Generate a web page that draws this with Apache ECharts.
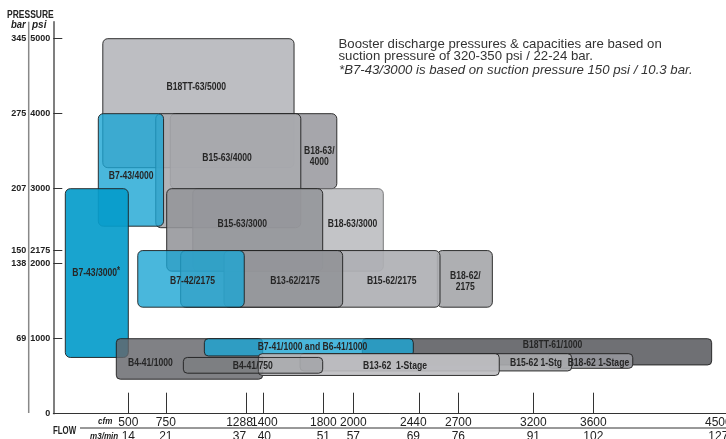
<!DOCTYPE html>
<html>
<head>
<meta charset="utf-8">
<script src="https://cdn.jsdelivr.net/npm/echarts@6/dist/echarts.min.js"></script>
<style>html,body{margin:0;padding:0;background:#fff}#c{width:726px;height:439px}</style>
</head>
<body>
<div id="c"></div>
<script>
// ---- data (cfm on x, psi on y) ----
const models = ['B18TT-63/5000','B18-63/4000','B15-63/4000','B7-43/4000','B18-63/3000','B15-63/3000','B7-43/3000*',
  'B18-62/2175','B15-62/2175','B13-62/2175','B7-42/2175','B4-41/1000','B18TT-61/1000','B7-41/1000 and B6-41/1000',
  'B18-62 1-Stage','B15-62 1-Stg','B13-62  1-Stage','B4-41/750'];
const cfmFrom = [330, 780, 683, 300, 930, 756, 80, 2560, 1138, 849, 563, 420, 2060, 1007, 3300, 1645, 1367, 867];
const cfmTo   = [1605, 1890, 1650, 735, 2200, 1796, 500, 2927, 2578, 1929, 1273, 1396, 4389, 2400, 3863, 3456, 2973, 1796];
const psiLow  = [3280, 3000, 2480, 2500, 1900, 1900, 750, 1420, 1420, 1420, 1420, 460, 650, 770, 605, 570, 510, 540];
const psiHigh = [5000, 4000, 4000, 4000, 3000, 3000, 3000, 2175, 2175, 2175, 2175, 1000, 1000, 1000, 800, 800, 800, 750];
const labelText = ['B18TT-63/5000','B18-63/\n4000','B15-63/4000','B7-43/4000','B18-63/3000','B15-63/3000','B7-43/3000{s|*}',
  'B18-62/\n2175','B15-62/2175','B13-62/2175','B7-42/2175','B4-41/1000','B18TT-61/1000','B7-41/1000 and B6-41/1000',
  'B18-62 1-Stage','B15-62 1-Stg','B13-62  1-Stage','B4-41/750'];
const labelCfm = [953, 1773, 1158, 519, 1995, 1260, 286, 2747, 2256, 1611, 928, 647, 3328, 1728, 3634, 3218, 2278, 1330];
const labelPsi = [4352, 3424, 3404, 3173, 2525, 2529, 1872, 1769, 1769, 1769, 1769, 680, 916, 893, 672, 672, 640, 636];
const psiTicks = [1000, 2000, 2175, 3000, 4000, 5000];
const psiLabels = [0, 1000, 2000, 2175, 3000, 4000, 5000];
const barLabels = [69, 138, 150, 207, 275, 345];
const cfmTicks = [500, 750, 1288, 1400, 1800, 2000, 2440, 2700, 3200, 3600, 4500];
const m3Labels = [14, 21, 37, 40, 51, 57, 69, 76, 91, 102, 127];

// ---- styles ----
const BLUE = 'rgba(28,165,211,0.8)';
const boxStyle = {
  'B18TT-63/5000': {fill:'rgba(180,181,185,0.88)'},
  'B18-63/4000': {fill:'rgba(150,151,156,0.85)'},
  'B15-63/4000': {fill:'rgba(170,171,175,0.9)'},
  'B7-43/4000': {fill:BLUE},
  'B18-63/3000': {fill:'rgba(170,171,175,0.7)', stroke:'rgba(110,110,112,0.9)'},
  'B15-63/3000': {fill:'rgba(148,149,154,0.88)'},
  'B7-43/3000*': {fill:'rgba(8,157,203,0.93)'},
  'B18-62/2175': {fill:'rgba(160,161,165,0.85)'},
  'B15-62/2175': {fill:'rgba(175,176,180,0.92)'},
  'B13-62/2175': {fill:'rgba(140,141,146,0.75)'},
  'B7-42/2175': {fill:BLUE},
  'B4-41/1000': {fill:'rgba(100,101,106,0.82)', r:4},
  'B18TT-61/1000': {fill:'rgba(95,96,101,0.9)', r:4},
  'B7-41/1000 and B6-41/1000': {fill:BLUE, r:4},
  'B18-62 1-Stage': {fill:'rgba(150,151,156,0.9)', r:4},
  'B15-62 1-Stg': {fill:'rgba(168,169,173,0.92)', r:4},
  'B13-62  1-Stage': {fill:'rgba(188,189,192,0.9)', r:4},
  'B4-41/750': {fill:'rgba(120,121,126,0.3)', r:4}
};
const BOLDF = "'Liberation Sans',Arial,sans-serif";
const SANS = "'Liberation Sans',Arial,sans-serif";
const LABEL_SCALE = 0.78;
const tickLabelShift = {1288: -7, 1400: 1, 2440: -6, 4500: -10};

const chart = echarts.init(document.getElementById('c'), null, {renderer:'canvas'});

const boxData = models.map((m, i) => [cfmFrom[i], cfmTo[i], psiLow[i], psiHigh[i]]);
const labelData = models.map((m, i) => [labelCfm[i], labelPsi[i]]);

function renderBox(params, api) {
  const i = params.dataIndex;
  const st = boxStyle[models[i]];
  const p0 = api.coord([api.value(0), api.value(3)]);
  const p1 = api.coord([api.value(1), api.value(2)]);
  return {
    type: 'rect',
    shape: {x: p0[0], y: p0[1], width: p1[0] - p0[0], height: p1[1] - p0[1], r: st.r || 5},
    style: {fill: st.fill, stroke: st.stroke || 'rgba(30,30,30,0.9)', lineWidth: 1}
  };
}
function renderLabel(params, api) {
  const i = params.dataIndex;
  const p = api.coord([api.value(0), api.value(1)]);
  return {
    type: 'text', x: p[0], y: p[1], scaleX: LABEL_SCALE, scaleY: 1,
    style: {
      text: labelText[i], fill: '#262626', font: 'bold 11px ' + BOLDF,
      align: 'center', verticalAlign: 'middle', lineHeight: 11,
      rich: {s: {font: 'bold 10px ' + BOLDF, fill:'#262626', padding: [0,0,5,0]}}
    }
  };
}

const xRich = {};
cfmTicks.forEach((v, i) => {
  const s = tickLabelShift[v] || 0;
  const pad = s < 0 ? [0, -2 * s, 0, 0] : [0, 0, 0, 2 * s];
  xRich['a' + i] = {font: 'bold 9px ' + BOLDF, color: '#222', lineHeight: 14, padding: pad};
  xRich['b' + i] = {font: 'bold 9px ' + BOLDF, color: '#222', lineHeight: 15, padding: pad};
});

const option = {
  animation: false,
  grid: {left: 53.3, right: -2.3, top: 21.8, bottom: 25.3, containLabel: false, outerBoundsMode: 'none'},
  xAxis: {
    type: 'value', min: 0, max: 4500,
    axisLine: {show: true, lineStyle: {color: '#333', width: 1}},
    axisTick: {show: true, inside: true, length: 21, customValues: cfmTicks, lineStyle: {color: '#333', width: 1}},
    axisLabel: {
      customValues: cfmTicks, margin: 1.5, hideOverlap: false,
      formatter: v => { const i = cfmTicks.indexOf(v); return '{a' + i + '|' + v + '}\n{b' + i + '|' + m3Labels[i] + '}'; },
      rich: xRich
    },
    splitLine: {show: false}
  },
  yAxis: [{
    type: 'value', min: 0, max: 5225,
    axisLine: {show: true, lineStyle: {color: '#555', width: 1.5}},
    axisTick: {show: true, inside: true, length: 9, customValues: psiTicks, lineStyle: {color: '#333', width: 1}},
    axisLabel: {customValues: psiLabels, margin: 3, color: '#222', fontFamily: BOLDF, fontWeight: 'bold', fontSize: 9,
      formatter: v => String(v)},
    splitLine: {show: false}
  }, {
    type: 'value', min: 0, max: 5225, position: 'left', offset: 24,
    axisLine: {show: false}, axisTick: {show: false},
    axisLabel: {customValues: psiTicks, margin: 3, color: '#222', fontFamily: BOLDF, fontWeight: 'bold', fontSize: 9,
      formatter: v => String(barLabels[psiTicks.indexOf(v)])},
    splitLine: {show: false}
  }],
  graphic: [
    {type: 'text', x: 7, y: 15, scaleX: 0.85, style: {text: 'PRESSURE', font: 'bold 10px ' + BOLDF, fill: '#222', verticalAlign: 'middle'}},
    {type: 'text', x: 11, y: 25.5, scaleX: 0.95, style: {text: 'bar', font: 'italic bold 10px ' + BOLDF, fill: '#222', verticalAlign: 'middle'}},
    {type: 'text', x: 32, y: 25.5, style: {text: 'psi', font: 'italic bold 10px ' + BOLDF, fill: '#222', verticalAlign: 'middle'}},
    {type: 'line', shape: {x1: 28.7, y1: 21.7, x2: 28.7, y2: 413}, style: {stroke: '#888', lineWidth: 1.5}},
    {type: 'text', x: 53, y: 431, scaleX: 0.75, style: {text: 'FLOW', font: 'bold 10.5px ' + BOLDF, fill: '#222', verticalAlign: 'middle'}},
    {type: 'line', shape: {x1: 80, y1: 428, x2: 726, y2: 428}, style: {stroke: '#333', lineWidth: 1}},
    {type: 'text', x: 98, y: 421, scaleX: 0.85, style: {text: 'cfm', font: 'italic bold 9.5px ' + BOLDF, fill: '#222', verticalAlign: 'middle'}},
    {type: 'text', x: 90, y: 436, scaleX: 0.85, style: {text: 'm3/min', font: 'italic bold 9.5px ' + BOLDF, fill: '#222', verticalAlign: 'middle'}},
    {type: 'text', x: 338.5, y: 38, style: {text: 'Booster discharge pressures & capacities are based on\nsuction pressure of 320-350 psi / 22-24 bar.', font: '13.2px ' + SANS, fill: '#333', lineHeight: 12, verticalAlign: 'top'}},
    {type: 'text', x: 339, y: 64.5, style: {text: '*B7-43/3000 is based on suction pressure 150 psi / 10.3 bar.', font: 'italic 13.2px ' + SANS, fill: '#333', lineHeight: 12, verticalAlign: 'top'}}
  ],
  series: [{
    type: 'custom', name: 'boxes', renderItem: renderBox, data: boxData,
    encode: {x: [0, 1], y: [2, 3]}, clip: false
  }, {
    type: 'custom', name: 'labels', renderItem: renderLabel, data: labelData,
    encode: {x: 0, y: 1}, clip: false
  }]
};
chart.setOption(option);
</script>
</body>
</html>
